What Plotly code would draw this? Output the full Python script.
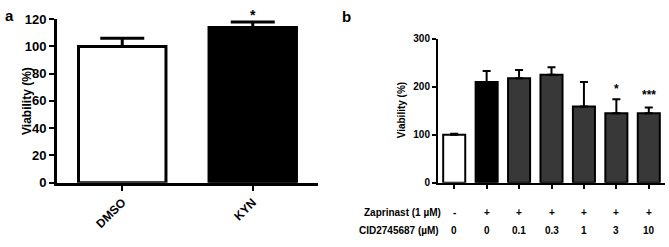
import plotly.graph_objects as go

# Panel a data
groups_a = ["DMSO", "KYN"]
viability_a = [100, 114]
sem_a = [6, 4]
colors_a = ["white", "black"]
stars_a = ["", "*"]

# Panel b data
positions_b = [0, 1, 2, 3, 4, 5, 6]
viability_b = [100, 210, 218, 225, 159, 145, 145]
sem_b = [2, 23, 17, 16, 51, 29, 12]
colors_b = ["white", "black", "#383838", "#383838", "#383838", "#383838", "#383838"]
zaprinast_row = ["-", "+", "+", "+", "+", "+", "+"]
cid_row = ["0", "0", "0.1", "0.3", "1", "3", "10"]
stars_b = ["", "", "", "", "", "*", "***"]

W, H = 669, 247
FONT = "Liberation Sans, Arial, sans-serif"

def py(p):  # pixel y (from top) to paper
    return (H - p) / H

def px(p):
    return p / W

pos_a = list(range(len(groups_a)))
A_TOP, A_BOT = 13, 187  # pixel rows of y=120 and y=0 in panel a

fig = go.Figure()

fig.add_trace(go.Bar(
    x=pos_a, y=viability_a, width=0.67,
    marker=dict(color=colors_a, line=dict(color="black", width=3)),
    error_y=dict(type="data", symmetric=False, array=sem_a, arrayminus=[0] * len(sem_a),
                 color="black", thickness=3, width=22),
    xaxis="x", yaxis="y", showlegend=False,
))

fig.add_trace(go.Bar(
    x=positions_b, y=viability_b, width=0.68,
    marker=dict(color=colors_b, line=dict(color="black", width=2)),
    error_y=dict(type="data", symmetric=False, array=sem_b, arrayminus=[0] * len(sem_b),
                 color="black", thickness=2, width=4),
    xaxis="x2", yaxis="y2", showlegend=False,
))

axis_common = dict(showline=True, linecolor="black", showgrid=False, zeroline=False,
                   ticks="outside", tickcolor="black")

fig.update_layout(
    width=W, height=H,
    margin=dict(l=0, r=0, t=0, b=0),
    plot_bgcolor="white", paper_bgcolor="white",
    font=dict(family=FONT, color="black"),
    xaxis=dict(**axis_common, domain=[px(57), px(318)], range=[-0.5, 1.5],
               linewidth=3, tickwidth=2, ticklen=5, tickangle=-45,
               tickvals=pos_a, ticktext=groups_a,
               tickfont=dict(size=12, weight="bold"), anchor="y"),
    yaxis=dict(**axis_common, domain=[py(A_BOT), py(A_TOP)], range=[0, 120],
               linewidth=3, tickwidth=2, ticklen=5, tickvals=[0, 20, 40, 60, 80, 100, 120],
               tickfont=dict(size=13, weight="bold"), anchor="x"),
    xaxis2=dict(**axis_common, domain=[px(438), px(665)], range=[-0.5, 6.5],
                linewidth=2, tickwidth=2, ticklen=4, tickvals=positions_b,
                ticktext=[""] * len(positions_b), anchor="y2"),
    yaxis2=dict(**axis_common, domain=[py(187), py(34)], range=[0, 300],
                linewidth=2, tickwidth=2, ticklen=4, tickvals=[0, 100, 200, 300],
                tickfont=dict(size=10, weight="bold"), anchor="x2"),
)

ann = []
# Panel labels
ann.append(dict(text="a", x=px(3), y=py(9), xref="paper", yref="paper", showarrow=False,
                xanchor="left", yanchor="middle", font=dict(size=15, weight="bold")))
ann.append(dict(text="b", x=px(340), y=py(10), xref="paper", yref="paper", showarrow=False,
                xanchor="left", yanchor="middle", font=dict(size=15, weight="bold")))
# Y titles
ann.append(dict(text="Viability (%)", x=px(18), y=py(100), xref="paper", yref="paper",
                showarrow=False, textangle=-90, font=dict(size=12, weight="bold")))
ann.append(dict(text="Viability (%)", x=px(401), y=py(110), xref="paper", yref="paper",
                showarrow=False, textangle=-90, font=dict(size=10, weight="bold")))
# Stars (panel a star sits above the axis range, so place it in paper units)
for p, v, e, s in zip(pos_a, viability_a, sem_a, stars_a):
    if s:
        star_val = v + e + 5
        star_px = A_BOT - star_val * (A_BOT - A_TOP) / 120
        ann.append(dict(text=s, x=p, y=py(star_px), xref="x", yref="paper", showarrow=False,
                        yanchor="middle", font=dict(size=14, weight="bold")))
for p, v, e, s in zip(positions_b, viability_b, sem_b, stars_b):
    if s:
        ann.append(dict(text=s, x=p, y=v + e + 21 if s == "*" else v + e + 25, xref="x2", yref="y2",
                        showarrow=False, yanchor="middle", font=dict(size=12, weight="bold")))
# Condition rows
ann.append(dict(text="Zaprinast (1 µM)", x=px(443), y=py(219), xref="paper", yref="paper",
                showarrow=False, xanchor="right", yanchor="middle", font=dict(size=10, weight="bold")))
ann.append(dict(text="CID2745687 (µM)", x=px(441), y=py(238), xref="paper", yref="paper",
                showarrow=False, xanchor="right", yanchor="middle", font=dict(size=10, weight="bold")))
for p, z, c in zip(positions_b, zaprinast_row, cid_row):
    ann.append(dict(text=z, x=p, y=py(219), xref="x2", yref="paper", showarrow=False,
                    yanchor="middle", font=dict(size=10, weight="bold")))
    ann.append(dict(text=c, x=p, y=py(238), xref="x2", yref="paper", showarrow=False,
                    yanchor="middle", font=dict(size=10, weight="bold")))

fig.update_layout(annotations=ann)
fig.write_html("out.html", config={"displayModeBar": False},
               post_script="document.body.style.margin='0';")
